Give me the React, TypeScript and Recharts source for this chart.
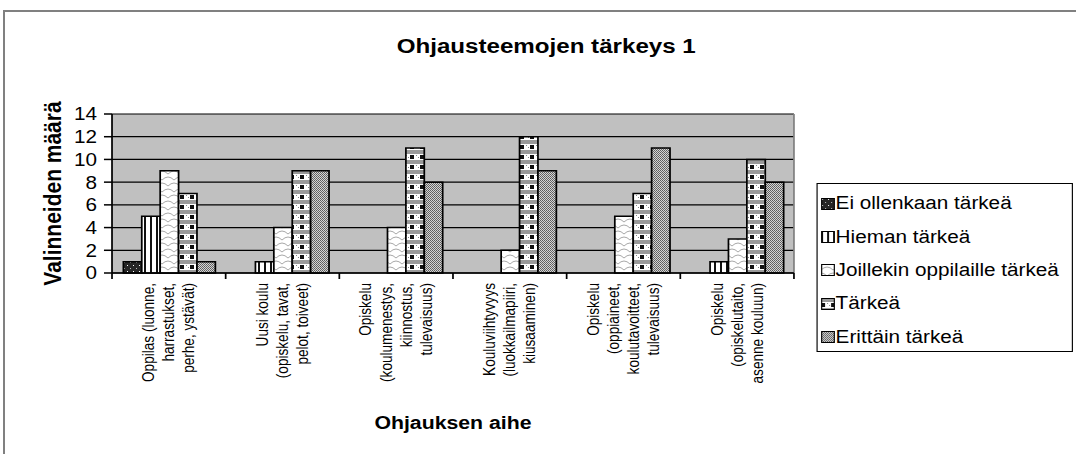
import React from "react";
import { Bar, BarChart, CartesianGrid, Legend, XAxis, YAxis } from "recharts";

// Data
const categories = [
  "Oppilas (luonne, harrastukset, perhe, ystävät)",
  "Uusi koulu (opiskelu, tavat, pelot, toiveet)",
  "Opiskelu (koulumenestys, kiinnostus, tulevaisuus)",
  "Kouluviihtyvyys (luokkailmapiiri, kiusaaminen)",
  "Opiskelu (oppiaineet, koulutavoitteet, tulevaisuus)",
  "Opiskelu (opiskelutaito, asenne kouluun)",
];

const tickLines = [
  ["Oppilas (luonne,", "harrastukset,", "perhe, ystävät)"],
  ["Uusi koulu", "(opiskelu, tavat,", "pelot, toiveet)"],
  ["Opiskelu", "(koulumenestys,", "kiinnostus,", "tulevaisuus)"],
  ["Kouluviihtyvyys", "(luokkailmapiiri,", "kiusaaminen)"],
  ["Opiskelu", "(oppiaineet,", "koulutavoitteet,", "tulevaisuus)"],
  ["Opiskelu", "(opiskelutaito,", "asenne kouluun)"],
];

const eiOllenkaan = [1, 0, 0, 0, 0, 0];
const hieman = [5, 1, 0, 0, 0, 1];
const joillekin = [9, 4, 4, 2, 5, 3];
const tarkea = [7, 9, 11, 12, 7, 10];
const erittain = [1, 9, 8, 9, 11, 8];

const seriesNames = [
  "Ei ollenkaan tärkeä",
  "Hieman tärkeä",
  "Joillekin oppilaille tärkeä",
  "Tärkeä",
  "Erittäin tärkeä",
];
const seriesValues = [eiOllenkaan, hieman, joillekin, tarkea, erittain];

const yTicks = [0, 2, 4, 6, 8, 10, 12, 14];

const data = categories.map((name, i) => {
  const row: Record<string, string | number> = { name };
  seriesValues.forEach((vals, s) => {
    row[`s${s}`] = vals[i];
  });
  return row;
});

// The reference image is stretched horizontally, so the chart is laid out
// narrower and widened with scaleX.
const STRETCH = 1.15;
const W = 936;
const H = 454;
const PLOT_LEFT = 97.4;
const PLOT_RIGHT = 690.4;
const PLOT_TOP = 114;
const PLOT_BOTTOM = 273;
const BAND = (PLOT_RIGHT - PLOT_LEFT) / categories.length;
const FONT = "'Liberation Sans', Arial, sans-serif";
// undo the stretch inside fill patterns so they stay pixel-aligned on screen
const PAT_TF = `scale(${1 / STRETCH},1)`;

function CategoryTick(props: any) {
  const { x, y, payload, index } = props;
  const i = payload?.index ?? index ?? 0;
  const lines = tickLines[i] ?? [String(payload?.value)];
  const half = BAND / 2;
  const n = lines.length;
  return (
    <g>
      <line x1={x - half} x2={x - half} y1={y} y2={y + 6} stroke="#000" strokeWidth={1.5} />
      {i === categories.length - 1 && (
        <line x1={x + half} x2={x + half} y1={y} y2={y + 6} stroke="#000" strokeWidth={1.5} />
      )}
      <g transform={`translate(${x},${y + 10}) rotate(-90)`}>
        <text textAnchor="end" fontSize={13.6} fontFamily={FONT} fill="#000">
          {lines.map((l, k) => (
            <tspan key={k} x={0} y={(k - (n - 1) / 2) * 17.5 + 4.8}>
              {l}
            </tspan>
          ))}
        </text>
      </g>
    </g>
  );
}

function PatternLegend() {
  return (
    <div
      style={{
        width: 223.4,
        height: 169,
        border: "1.5px solid #000",
        boxSizing: "border-box",
        background: "#fff",
        paddingTop: 3,
        fontFamily: FONT,
        fontSize: 18,
        color: "#000",
      }}
    >
      {seriesNames.map((name, i) => (
        <div key={name} style={{ display: "flex", alignItems: "center", height: 33.4, paddingLeft: 3 }}>
          <svg width={12} height={12} style={{ marginRight: 1, flexShrink: 0 }}>
            <rect x={0.5} y={0.5} width={11} height={11} fill={`url(#pat-${i})`} stroke="#000" />
          </svg>
          <span style={{ whiteSpace: "nowrap" }}>{name}</span>
        </div>
      ))}
    </div>
  );
}

export default function App() {
  return (
    <div style={{ position: "absolute", left: 0, top: 0, width: 1076, height: 454, overflow: "hidden", background: "#fff" }}>
      {/* outer chart frame, runs past the picture's right and bottom edges */}
      <div
        style={{
          position: "absolute",
          left: 3,
          top: 10,
          width: 1200,
          height: 600,
          borderTop: "2px solid #808080",
          borderLeft: "2px solid #808080",
        }}
      />
      <div style={{ position: "absolute", left: 0, top: 0, width: W, height: H, transform: `scaleX(${STRETCH})`, transformOrigin: "0 0" }}>
        <BarChart
          width={W}
          height={H}
          data={data}
          margin={{ top: PLOT_TOP, right: W - PLOT_RIGHT, bottom: 0, left: 0 }}
          barCategoryGap="10%"
          barGap={0}
        >
          <defs>
            {/* Ei ollenkaan: dark with white specks */}
            <pattern id="pat-0" width={6} height={6} patternUnits="userSpaceOnUse" patternTransform={PAT_TF}>
              <rect width={6} height={6} fill="#262626" />
              <rect x={1} y={1} width={1} height={1} fill="#fff" />
              <rect x={4} y={4} width={1} height={1} fill="#bbb" />
            </pattern>
            {/* Hieman: vertical stripes */}
            <pattern id="pat-1" width={6} height={6} patternUnits="userSpaceOnUse" patternTransform={PAT_TF}>
              <rect width={6} height={6} fill="#fff" />
              <rect x={0} width={2} height={6} fill="#111" />
            </pattern>
            {/* Joillekin: white with light wavy scales */}
            <pattern id="pat-2" width={12} height={12} patternUnits="userSpaceOnUse" patternTransform={PAT_TF}>
              <rect width={12} height={12} fill="#fff" />
              <path d="M0 6 Q6 0 12 6 M-6 12 Q0 6 6 12 M6 12 Q12 6 18 12 M-6 0 Q0 -6 6 0 M6 0 Q12 -6 18 0" fill="none" stroke="#a8a8a8" strokeWidth={1} />
            </pattern>
            {/* Tärkeä: white with dotted grey and black blocks */}
            <pattern id="pat-3" width={10} height={10} patternUnits="userSpaceOnUse" patternTransform={PAT_TF}>
              <rect width={10} height={10} fill="#fff" />
              <rect x={0} y={0} width={10} height={4} fill="#9a9a9a" />
              <rect x={0} y={5} width={4} height={4} fill="#111" />
              <rect x={6} y={5} width={1} height={1} fill="#888" />
              <rect x={8} y={7} width={1} height={1} fill="#888" />
            </pattern>
            {/* Erittäin: fine grey dots */}
            <pattern id="pat-4" width={2} height={2} patternUnits="userSpaceOnUse" patternTransform={PAT_TF}>
              <rect width={2} height={2} fill="#d4d4d4" />
              <rect x={0} y={0} width={1} height={1} fill="#5c5c5c" />
              <rect x={1} y={1} width={1} height={1} fill="#6a6a6a" />
            </pattern>
          </defs>

          <CartesianGrid fill="#C0C0C0" stroke="#000" strokeWidth={1.2} vertical={false} />
          <CartesianGrid
            horizontal={false}
            stroke="#808080"
            strokeWidth={1.5}
            verticalCoordinatesGenerator={({ offset }: any) => [offset.left + offset.width]}
          />

          <XAxis
            dataKey="name"
            interval={0}
            height={H - PLOT_BOTTOM}
            tickLine={false}
            tickSize={0}
            tickMargin={0}
            axisLine={{ stroke: "#000", strokeWidth: 1.5 }}
            tick={<CategoryTick />}
          />
          <YAxis
            domain={[0, 14]}
            ticks={yTicks}
            interval={0}
            width={PLOT_LEFT}
            tickSize={7}
            tickMargin={6}
            axisLine={{ stroke: "#000", strokeWidth: 1.5 }}
            tickLine={{ stroke: "#000", strokeWidth: 1.5 }}
            tick={{ fontSize: 18, fill: "#000", fontFamily: FONT }}
          />

          <Legend
            layout="vertical"
            align="center"
            verticalAlign="middle"
            wrapperStyle={{ left: 709.6, top: 183, width: 223.4, height: 169 }}
            content={<PatternLegend />}
          />

          {seriesNames.map((name, s) => (
            <Bar
              key={name}
              dataKey={`s${s}`}
              name={name}
              fill={`url(#pat-${s})`}
              stroke="#000"
              strokeWidth={1.5}
              isAnimationActive={false}
            />
          ))}

          <text x={475} y={53} textAnchor="middle" fontSize={21} fontWeight="bold" fontFamily={FONT} fill="#000">
            Ohjausteemojen tärkeys 1
          </text>
          <text x={(PLOT_LEFT + PLOT_RIGHT) / 2} y={429} textAnchor="middle" fontSize={18.5} fontWeight="bold" fontFamily={FONT} fill="#000">
            Ohjauksen aihe
          </text>
          <text
            transform={`translate(53,${(PLOT_TOP + PLOT_BOTTOM) / 2}) rotate(-90)`}
            textAnchor="middle"
            fontSize={21}
            fontWeight="bold"
            fontFamily={FONT}
            fill="#000"
          >
            Valinneiden määrä
          </text>
        </BarChart>
      </div>
    </div>
  );
}
